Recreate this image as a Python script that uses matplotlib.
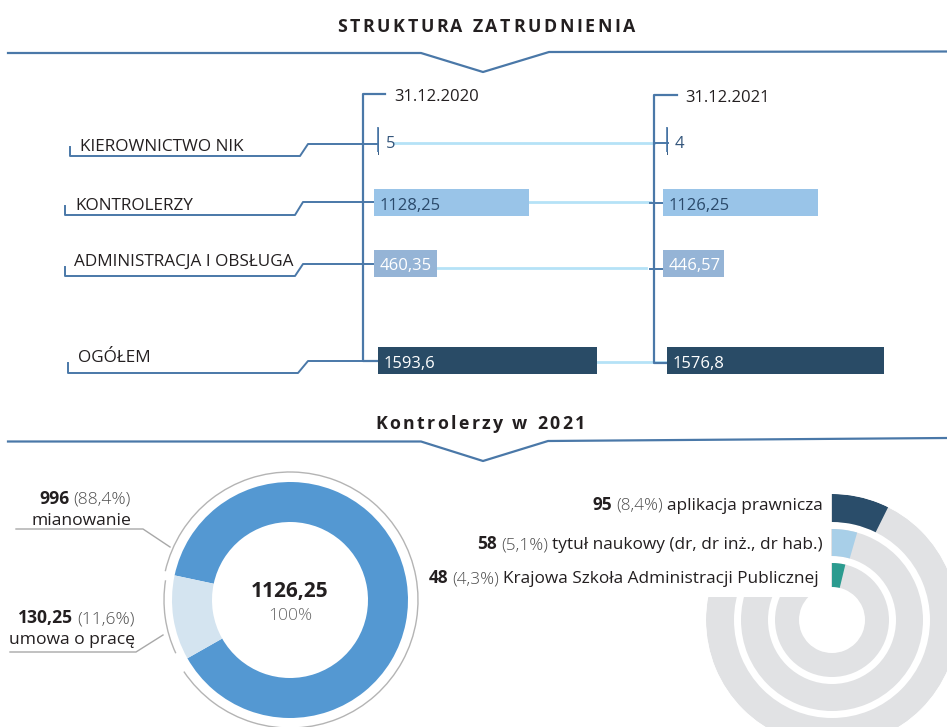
import numpy as np
import matplotlib
matplotlib.use('Agg')
import matplotlib.pyplot as plt
from matplotlib.patches import Arc, Rectangle

plt.rcParams['font.family'] = ['Open Sans', 'DejaVu Sans']

# ---- dane ----
categories = ['KIEROWNICTWO NIK', 'KONTROLERZY', 'ADMINISTRACJA I OBSŁUGA', 'OGÓŁEM']
dates = ['31.12.2020', '31.12.2021']
values_2020 = [5, 1128.25, 460.35, 1593.6]
values_2021 = [4, 1126.25, 446.57, 1576.8]

contract_labels = ['mianowanie', 'umowa o pracę']
contract_values = [996, 130.25]
contract_pct = [88.4, 11.6]
total_2021 = 1126.25

qual_labels = ['aplikacja prawnicza', 'tytuł naukowy (dr, dr inż., dr hab.)',
               'Krajowa Szkoła Administracji Publicznej']
qual_values = [95, 58, 48]
qual_pct = [8.4, 5.1, 4.3]

# ---- uklad ----
W, H = 947, 727
LINE = '#4a78a8'
DARK = '#231f20'
GREY_TXT = '#4d4d4d'

fig = plt.figure(figsize=(W / 100, H / 100), dpi=100)
renderer = fig.canvas.get_renderer()

ov = fig.add_axes([0, 0, 1, 1])
ov.set_xlim(0, W)
ov.set_ylim(H, 0)
ov.axis('off')


def px_axes(left, top, w, h, **kw):
    return fig.add_axes([left / W, 1 - (top + h) / H, w / W, h / H], **kw)


def fmt(v):
    return f'{v:g}'.replace('.', ',')


def spaced(ax, xc, y, s, size, track, color=DARK):
    # tekst z rozstrzelonymi literami
    widths = []
    for ch in s:
        if ch == ' ':
            widths.append(size * 0.36)
        else:
            t = ax.text(0, 0, ch, fontsize=size, fontweight='bold')
            widths.append(t.get_window_extent(renderer).width)
            t.remove()
    x = xc - (sum(widths) + track * (len(s) - 1)) / 2
    for ch, w in zip(s, widths):
        ax.text(x, y, ch, fontsize=size, fontweight='bold', color=color,
                ha='left', va='baseline')
        x += w + track


def right_parts(ax, x, y, parts, size, gap=4):
    for txt, weight, color in reversed(parts):
        t = ax.text(x, y, txt, ha='right', va='baseline', fontsize=size,
                    fontweight=weight, color=color)
        x -= t.get_window_extent(renderer).width + gap


# ---- naglowki ----
spaced(ov, 486, 32, 'STRUKTURA ZATRUDNIENIA', 12.8, 2.6)
ov.plot([8, 421, 483, 549, 947], [53, 53, 72, 52, 51.5], color=LINE, lw=1.6)
spaced(ov, 480, 429, 'Kontrolerzy w 2021', 12.8, 2.4)
ov.plot([8, 421, 483, 548, 947], [441.5, 441.5, 461, 441, 438], color=LINE, lw=1.6)

# ---- struktura zatrudnienia: slupki ----
px_per_unit = 0.1374
row_y = [141, 202.5, 263.5, 360.5]
row_shift = [4, 0, 0, 4]
bar_colors = ['#3d5f85', '#99c4e8', '#95b4d6', '#294b66']
val_colors = ['#34567c', '#2b4a6b', '#ffffff', '#ffffff']
col_left = [374, 663]

for x0, vals in zip(col_left, [values_2020, values_2021]):
    ax = px_axes(x0, 0, 2000 * px_per_unit, H)
    ax.set_xlim(0, 2000)
    ax.set_ylim(H, 0)
    ax.axis('off')
    lefts = [s / px_per_unit for s in row_shift]
    ax.barh(row_y, vals, left=lefts, height=27, color=bar_colors)
    ax.vlines(lefts[0], 127, 152, color=LINE, lw=1.2)
    for i, v in enumerate(vals):
        off = 8 if i == 0 else 6
        ax.text(lefts[i] + off / px_per_unit, row_y[i] + 7, fmt(v),
                ha='left', va='baseline', fontsize=12, color=val_colors[i])

# linie laczace oba lata
link_y = [143, 202, 268, 362]
link_end = [654, 650, 646, 667]
for i, v in enumerate(values_2020):
    xs = col_left[0] + row_shift[i] + v * px_per_unit + (15 if i == 0 else 0)
    ov.plot([xs, link_end[i]], [link_y[i], link_y[i]], color='#b5e2f7', lw=2, zorder=1)

# nawiasy dat
ov.plot([385, 363, 363, 378], [94, 94, 361, 361], color=LINE, lw=1.6)
ov.plot([677, 654, 654, 667], [95, 95, 363, 363], color=LINE, lw=1.6)
ov.plot([654, 668], [143, 143], color=LINE, lw=1.4)
ov.plot([650, 663], [203, 203], color=LINE, lw=1.4)
ov.plot([650, 663], [269, 269], color=LINE, lw=1.4)
ov.text(394, 101, dates[0], fontsize=12, color=DARK, va='baseline')
ov.text(685, 102, dates[1], fontsize=12, color=DARK, va='baseline')

# etykiety kategorii z odnosnikami
lead = [
    ([70, 70, 300, 308, 378], [147, 156, 156, 144, 144]),
    ([65, 65, 295, 303, 374], [206, 215, 215, 202, 202]),
    ([65, 65, 295, 303, 373], [267, 276, 276, 264, 264]),
    ([68, 68, 298, 308, 378], [363, 373, 373, 361, 361]),
]
cat_x = [80, 75, 74, 78]
cat_base = [151, 210, 266, 362]
for i, name in enumerate(categories):
    ov.plot(*lead[i], color=LINE, lw=1.4)
    ov.text(cat_x[i], cat_base[i], name, fontsize=12.3, color=DARK, va='baseline')

# ---- kontrolerzy: pierscien ----
R_OUT, R_W = 118, 40
ax_d = px_axes(290 - 135, 600 - 135, 270, 270)
ax_d.pie(contract_values, radius=R_OUT, startangle=209.6, counterclock=True,
         colors=['#5498d2', '#d4e4f0'], wedgeprops=dict(width=R_W, linewidth=0))
ax_d.set_xlim(-135, 135)
ax_d.set_ylim(-135, 135)
ax_d.set_aspect('equal')
ax_d.axis('off')
ax_d.add_patch(Arc((0, 0), 256, 256, theta1=-146, theta2=167, color='#b4b4b4', lw=1))
ax_d.add_patch(Arc((0, 0), 252, 252, theta1=171, theta2=205, color='#b4b4b4', lw=1))

ov.text(290, 597, fmt(total_2021), ha='center', va='baseline', fontsize=15,
        fontweight='bold', color=DARK)
ov.text(290, 620, f'{sum(contract_pct):g}%', ha='center', va='baseline', fontsize=12.5,
        fontweight='light', color='#6a6a6a')

ov.plot([16, 143, 170], [529, 529, 547], color='#a8a8a8', lw=1)
ov.plot([10, 136, 163], [652, 652, 635], color='#a8a8a8', lw=1)
lab_right = [131, 135]
lab_base = [504, 623]
for i in range(2):
    right_parts(ov, lab_right[i], lab_base[i],
                [(fmt(contract_values[i]), 'bold', DARK),
                 (f'({fmt(contract_pct[i])}%)', 'light', GREY_TXT)], 12.6)
    ov.text(lab_right[i], lab_base[i] + 21, contract_labels[i], ha='right',
            va='baseline', fontsize=12.6, color=DARK)

# ---- kwalifikacje: wykres radialny ----
deg_per_pct = 3.15
ring_in = [98, 64, 33]
ring_w = [28, 27, 24]
qual_colors = ['#2a4d6a', '#a8cfe8', '#2b9b8f']
ax_r = px_axes(832 - 126, 620 - 126, 252, 252, projection='polar')
ax_r.set_theta_zero_location('N')
ax_r.set_theta_direction(-1)
for i, p in enumerate(qual_pct):
    ax_r.bar(0, ring_w[i], width=2 * np.pi, bottom=ring_in[i], color='#e1e2e4',
             align='edge', linewidth=0)
    ax_r.bar(0, ring_w[i], width=np.deg2rad(p * deg_per_pct), bottom=ring_in[i],
             color=qual_colors[i], align='edge', linewidth=0)
ax_r.set_ylim(0, 126)
ax_r.axis('off')

top = fig.add_axes([0, 0, 1, 1])
top.set_xlim(0, W)
top.set_ylim(H, 0)
top.axis('off')
top.add_patch(Rectangle((420, 488), 411, 109, color='white', lw=0))
q_right = [823, 823, 819]
q_base = [510, 549, 583]
for i in range(3):
    right_parts(top, q_right[i], q_base[i],
                [(str(qual_values[i]), 'bold', DARK),
                 (f'({fmt(qual_pct[i])}%)', 'light', GREY_TXT),
                 (qual_labels[i], 'normal', DARK)], 12.4)

fig.savefig('out.png', dpi=100)
